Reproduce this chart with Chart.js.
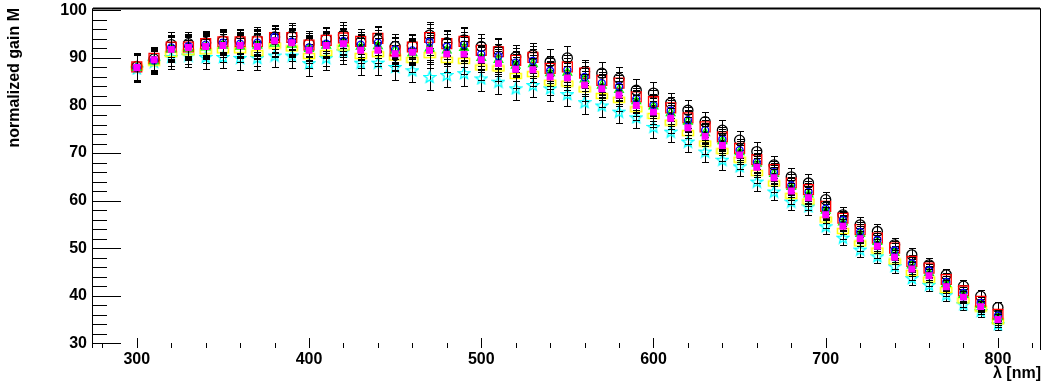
<!DOCTYPE html>
<html>
<head>
<meta charset="utf-8">
<script src="https://cdn.jsdelivr.net/npm/chart.js@4.4.1/dist/chart.umd.min.js"></script>
<style>
  html, body { margin: 0; padding: 0; background: #fff; }
  #wrap { width: 1043px; height: 387px; }
</style>
</head>
<body>
<div id="wrap"><canvas id="gainChart" width="1043" height="387"></canvas></div>
<script>
// wavelength points (nm)
const wavelengths = [300, 310, 320, 330, 340, 350, 360, 370, 380, 390,
  400, 410, 420, 430, 440, 450, 460, 470, 480, 490,
  500, 510, 520, 530, 540, 550, 560, 570, 580, 590,
  600, 610, 620, 630, 640, 650, 660, 670, 680, 690,
  700, 710, 720, 730, 740, 750, 760, 770, 780, 790, 800];

// normalized gain per sample
const gainBlackCircle = [88.2, 89.8, 92.8, 93.0, 93.2, 93.6, 93.6, 93.8, 94.4, 94.6,
  93.0, 94.0, 94.8, 93.4, 93.8, 92.4, 92.6, 94.8, 93.2, 93.8,
  92.4, 91.6, 90.2, 90.6, 89.2, 90.0, 87.1, 86.8, 85.7, 83.2,
  82.6, 80.5, 79.0, 76.6, 74.8, 72.7, 70.3, 67.5, 65.0, 63.7,
  60.2, 57.0, 54.9, 53.5, 50.7, 48.6, 46.5, 44.4, 42.0, 39.9, 37.5];
const gainRed = [88.1, 89.9, 92.3, 92.3, 93.0, 93.4, 93.4, 93.4, 94.3, 94.3,
  92.7, 93.7, 94.2, 93.5, 94.1, 91.5, 92.3, 94.3, 93.0, 93.5,
  91.6, 91.3, 89.5, 90.1, 87.8, 88.1, 86.8, 85.3, 84.7, 81.8,
  80.8, 79.5, 77.4, 75.5, 73.4, 71.0, 68.6, 66.5, 63.7, 62.3,
  58.8, 56.3, 53.9, 52.1, 50.0, 47.2, 45.8, 43.4, 41.0, 38.8, 36.1];
const gainGreen = [87.9, 89.3, 91.8, 92.0, 92.2, 92.6, 92.4, 92.6, 93.0, 92.8,
  91.9, 92.6, 93.0, 92.4, 92.5, 91.6, 91.0, 92.0, 91.6, 92.1,
  90.0, 89.6, 88.4, 88.7, 86.8, 86.9, 85.5, 84.2, 83.3, 80.9,
  79.8, 78.4, 76.6, 74.2, 72.5, 70.2, 67.8, 65.6, 62.9, 61.3,
  57.9, 55.4, 53.0, 51.3, 49.0, 46.4, 44.8, 42.5, 40.2, 38.1, 35.5];
const gainBlue = [88.0, 89.5, 92.2, 92.5, 92.8, 93.2, 93.0, 93.2, 94.4, 93.4,
  92.2, 93.0, 93.6, 92.8, 93.2, 91.8, 91.6, 93.4, 92.4, 92.8,
  90.8, 90.4, 89.0, 89.4, 87.3, 87.5, 86.0, 84.7, 84.0, 81.4,
  80.1, 78.9, 76.9, 74.8, 72.9, 70.6, 68.1, 66.0, 63.2, 61.8,
  58.3, 55.9, 53.4, 51.7, 49.5, 46.8, 45.3, 42.9, 40.6, 38.5, 35.8];
const gainMagenta = [88.0, 89.6, 91.8, 92.2, 92.4, 92.6, 92.6, 92.4, 93.6, 93.2,
  91.6, 92.6, 93.0, 91.6, 91.6, 90.9, 91.2, 91.6, 90.8, 90.8,
  89.6, 88.8, 87.6, 87.5, 86.0, 85.8, 84.3, 83.5, 82.2, 80.0,
  78.6, 77.3, 75.3, 73.5, 71.6, 69.6, 67.0, 64.8, 62.0, 60.6,
  57.0, 54.6, 52.0, 50.4, 48.1, 45.6, 44.2, 41.9, 39.7, 37.7, 35.0];
const gainYellow = [88.0, 89.0, 90.8, 91.2, 91.4, 91.6, 91.6, 91.0, 92.6, 92.0,
  90.4, 91.0, 92.2, 90.4, 90.8, 90.1, 89.6, 90.6, 89.6, 89.4,
  88.0, 87.8, 86.2, 86.6, 84.8, 84.6, 83.4, 82.0, 81.2, 79.2,
  77.8, 76.4, 74.2, 72.0, 70.4, 68.6, 65.8, 63.6, 61.0, 59.8,
  56.0, 53.6, 51.0, 49.5, 47.2, 44.8, 43.4, 41.2, 39.0, 37.3, 34.6];
const gainCyan = [87.8, 89.2, 90.2, 90.5, 90.2, 90.2, 90.0, 90.0, 90.5, 90.5,
  88.9, 90.0, 91.4, 89.0, 89.0, 88.1, 87.4, 86.0, 86.4, 86.8,
  85.7, 85.0, 83.6, 84.3, 83.6, 82.4, 80.7, 80.0, 78.7, 77.5,
  75.5, 74.5, 72.4, 70.3, 68.6, 67.2, 64.0, 61.9, 59.8, 58.8,
  54.6, 52.2, 49.7, 48.3, 46.2, 43.7, 42.3, 40.2, 38.2, 36.8, 34.0];
const gainBlackDot = [88.0, 89.8, 92.0, 92.6, 92.6, 93.0, 92.8, 93.0, 93.8, 93.6,
  92.0, 92.8, 93.4, 92.2, 92.6, 90.0, 91.4, 92.4, 91.4, 91.6,
  90.2, 89.2, 88.8, 88.2, 86.6, 86.4, 84.8, 84.0, 82.8, 80.8,
  79.2, 77.8, 76.0, 74.0, 72.2, 70.2, 67.4, 65.2, 62.6, 61.0,
  57.6, 55.2, 52.6, 50.9, 48.6, 46.0, 44.6, 42.2, 40.0, 38.0, 35.4];

// half size of the error bars
const gainErr = [2.9, 2.4, 2.6, 2.5, 2.5, 2.4, 2.5, 2.6, 2.5, 2.7,
  2.6, 2.6, 2.7, 2.6, 2.6, 2.7, 2.5, 2.8, 2.6, 2.7,
  2.6, 2.6, 2.5, 2.5, 2.6, 2.5, 2.4, 2.4, 2.4, 2.3,
  2.4, 2.2, 2.2, 2.1, 2.1, 2.0, 2.0, 1.8, 1.8, 1.8,
  1.7, 1.6, 1.6, 1.5, 1.5, 1.4, 1.4, 1.3, 1.3, 1.2, 1.2];

const xTicks = [280, 300, 320, 340, 360, 380, 400, 420, 440, 460, 480, 500, 520, 540, 560, 580, 600, 620, 640, 660, 680, 700, 720, 740, 760, 780, 800, 820];
const yTicks = [30, 32, 34, 36, 38, 40, 42, 44, 46, 48, 50, 52, 54, 56, 58, 60, 62, 64, 66, 68, 70, 72, 74, 76, 78, 80, 82, 84, 86, 88, 90, 92, 94, 96, 98, 100];

const fontFamily = '"Liberation Sans", Arial, sans-serif';
const labelFont = { family: fontFamily, size: 16, weight: 'bold', lineHeight: 1 };

// small canvases for the markers chart.js does not have
function makeMarker(w, h, draw) {
  const c = document.createElement('canvas');
  c.width = w; c.height = h;
  draw(c.getContext('2d'));
  return c;
}
const yellowBox = makeMarker(14, 8, g => {
  g.strokeStyle = '#ffff00'; g.lineWidth = 1.5;
  g.strokeRect(1.5, 1.5, 11, 5);
});
const cyanStar = makeMarker(14, 14, g => {
  g.strokeStyle = '#00ffff'; g.lineWidth = 1.3;
  g.beginPath();
  for (let k = 0; k < 10; k++) {
    const r = k % 2 ? 2.6 : 6;
    const a = -Math.PI / 2 + k * Math.PI / 5;
    const px = 7 + r * Math.cos(a), py = 7.5 + r * Math.sin(a);
    k ? g.lineTo(px, py) : g.moveTo(px, py);
  }
  g.closePath(); g.stroke();
});

function pts(arr) {
  return wavelengths.map((x, i) => ({ x: x, y: arr[i] }));
}

function series(label, arr, style, color, radius, filled) {
  return {
    label: label,
    data: pts(arr),
    showLine: false,
    pointStyle: style,
    pointRadius: radius,
    pointBorderColor: color,
    pointBackgroundColor: filled ? color : 'rgba(0,0,0,0)',
    pointBorderWidth: 1.3
  };
}

// error bars drawn just before each graph's markers
const errorBars = {
  id: 'errorBars',
  beforeDatasetDraw(chart, args) {
    const ds = chart.data.datasets[args.index];
    const xs = chart.scales.x, ys = chart.scales.y, a = chart.chartArea;
    const ctx = chart.ctx;
    ctx.save();
    ctx.beginPath();
    ctx.rect(a.left, a.top, a.right - a.left, a.bottom - a.top);
    ctx.clip();
    ctx.strokeStyle = '#000';
    ctx.lineWidth = 1;
    ctx.beginPath();
    ds.data.forEach((p, i) => {
      const px = Math.round(xs.getPixelForValue(p.x)) + 0.5;
      const top = Math.round(ys.getPixelForValue(p.y + gainErr[i])) + 0.5;
      const bot = Math.round(ys.getPixelForValue(p.y - gainErr[i])) + 0.5;
      ctx.moveTo(px, top); ctx.lineTo(px, bot);
      ctx.moveTo(px - 3.5, top); ctx.lineTo(px + 3.5, top);
      ctx.moveTo(px - 3.5, bot); ctx.lineTo(px + 3.5, bot);
    });
    ctx.stroke();
    ctx.restore();
  }
};

// ROOT-like frame: left axis, top and right lines, inward ticks
const frame = {
  id: 'frame',
  afterDatasetsDraw(chart) {
    const ctx = chart.ctx, a = chart.chartArea;
    const xs = chart.scales.x, ys = chart.scales.y;
    ctx.save();
    ctx.strokeStyle = '#000';
    ctx.lineWidth = 1;
    ctx.beginPath();
    ctx.moveTo(a.left + 0.5, a.bottom); ctx.lineTo(a.left + 0.5, a.top + 0.5);
    ctx.lineTo(a.right - 0.5, a.top + 0.5); ctx.lineTo(a.right - 0.5, a.bottom + 2);
    yTicks.forEach(v => {
      const py = Math.round(ys.getPixelForValue(v)) + 0.5;
      ctx.moveTo(a.left, py);
      ctx.lineTo(a.left + (v % 10 === 0 ? 29 : 15), py);
    });
    xTicks.forEach(v => {
      const px = Math.round(xs.getPixelForValue(v)) + 0.5;
      ctx.moveTo(px, a.bottom);
      ctx.lineTo(px, a.bottom - (v % 100 === 0 ? 10 : 5));
    });
    ctx.stroke();
    ctx.lineWidth = 2;
    ctx.beginPath();
    ctx.moveTo(a.left + 1, a.top + 0.5); ctx.lineTo(a.right - 1, a.top + 0.5);
    ctx.stroke();
    ctx.restore();
  }
};

// let the layout padding alone decide where the plot frame sits
function noLabelPadding(s) {
  s.paddingTop = 0; s.paddingBottom = 0; s.paddingLeft = 0; s.paddingRight = 0;
}

new Chart(document.getElementById('gainChart'), {
  type: 'scatter',
  data: {
    datasets: [
      series('magenta', gainMagenta, 'rect', '#ff00ff', 4, true),
      series('blue', gainBlue, 'circle', '#0000ff', 3.5, false),
      series('green', gainGreen, 'triangle', '#00ff00', 5, false),
      series('black dot', gainBlackDot, 'circle', '#000000', 2.5, true),
      series('red', gainRed, 'rect', '#ff0000', 7, false),
      series('black', gainBlackCircle, 'circle', '#000000', 5, false),
      series('yellow', gainYellow, yellowBox, '#ffff00', 5, false),
      series('cyan', gainCyan, cyanStar, '#00ffff', 6, false)
    ]
  },
  options: {
    responsive: false,
    animation: false,
    devicePixelRatio: 1,
    layout: { autoPadding: false, padding: { top: 8, right: 2, left: 0, bottom: 0 } },
    plugins: {
      legend: { display: false },
      tooltip: { enabled: false }
    },
    scales: {
      x: {
        type: 'linear',
        min: 274,
        max: 825,
        afterBuildTicks: s => { s.ticks = xTicks.map(v => ({ value: v })); },
        afterFit: s => { s.height = 39; noLabelPadding(s); },
        grid: { display: false, drawTicks: false },
        border: { display: false },
        ticks: {
          autoSkip: false,
          maxRotation: 0,
          padding: 4,
          color: '#000',
          font: labelFont,
          callback: v => (v % 100 === 0 ? String(v) : '')
        },
        title: {
          display: true,
          text: 'λ [nm]',
          align: 'end',
          color: '#000',
          padding: { top: 0, bottom: 4 },
          font: { family: fontFamily, size: 16, weight: 'bold' }
        }
      },
      y: {
        min: 29,
        max: 100.5,
        afterBuildTicks: s => { s.ticks = yTicks.map(v => ({ value: v })); },
        afterFit: s => { s.width = 92; noLabelPadding(s); },
        grid: { display: false, drawTicks: false },
        border: { display: false },
        ticks: {
          autoSkip: false,
          padding: 5,
          color: '#000',
          font: labelFont,
          callback: v => (v % 10 === 0 ? String(v) : '')
        },
        title: {
          display: true,
          text: 'normalized gain M',
          align: 'end',
          color: '#000',
          padding: { top: 5, bottom: 0 },
          font: { family: fontFamily, size: 16, weight: 'bold' }
        }
      }
    }
  },
  plugins: [errorBars, frame]
});
</script>
</body>
</html>
